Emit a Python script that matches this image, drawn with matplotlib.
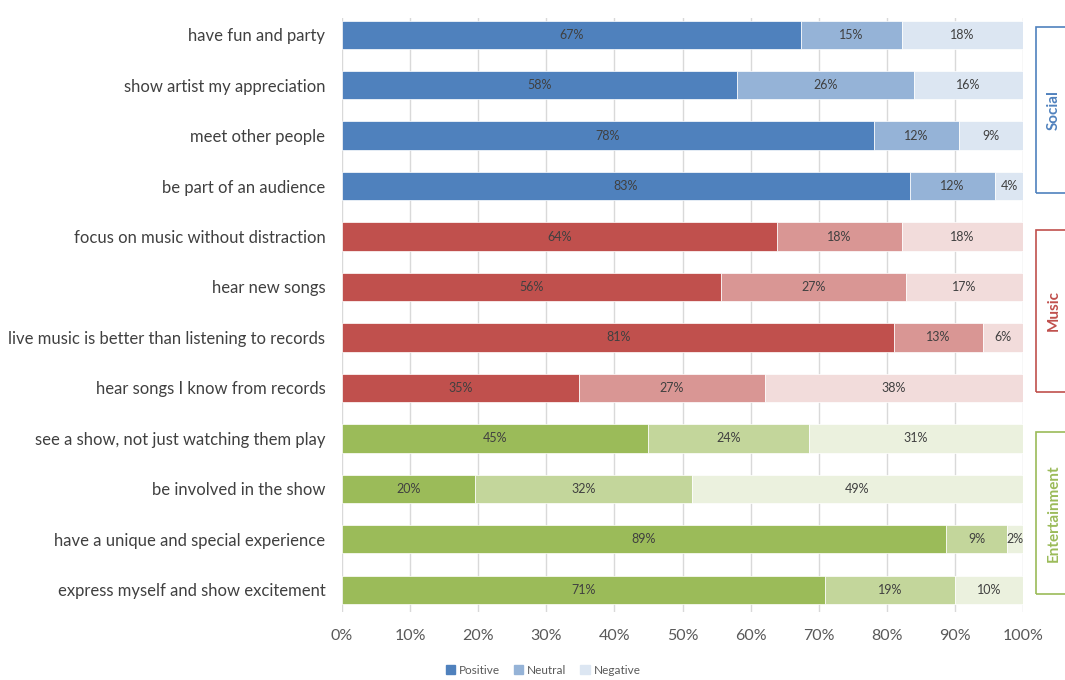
import matplotlib.pyplot as plt
from matplotlib.patches import Patch, Rectangle

# ----------------------------------------------------------------------
# Data (share of answers, in %)
# ----------------------------------------------------------------------
categories = [
    "have fun and party",
    "show artist my appreciation",
    "meet other people",
    "be part of an audience",
    "focus on music without distraction",
    "hear new songs",
    "live music is better than listening to records",
    "hear songs I know from records",
    "see a show, not just watching them play",
    "be involved in the show",
    "have a unique and special experience",
    "express myself and show excitement",
]
positive = [67.4, 58.0, 78.1, 83.4, 63.9, 55.7, 81.1, 34.8, 44.9, 19.5, 88.7, 70.9]
neutral = [14.8, 26.0, 12.5, 12.5, 18.3, 27.1, 13.0, 27.3, 23.7, 31.9, 9.0, 19.1]
negative = [17.8, 16.0, 9.4, 4.1, 17.8, 17.2, 5.9, 37.9, 31.4, 48.6, 2.3, 10.0]

groups = ["Social", "Music", "Entertainment"]
group_rows = [(0, 3), (4, 7), (8, 11)]

# colours per group: positive, neutral, negative
palette = {
    "Social": ("#4F81BD", "#95B3D7", "#DCE6F2"),
    "Music": ("#C0504D", "#D99694", "#F2DCDB"),
    "Entertainment": ("#9BBB59", "#C3D69B", "#EBF1DE"),
}

W, H = 1065, 680
fig = plt.figure(figsize=(W / 100, H / 100), dpi=100)
plt.rcParams["font.family"] = ["Lato", "DejaVu Sans"]

ax = fig.add_axes([342 / W, 1 - 612 / H, (1023 - 342) / W, (612 - 18) / H])

y = list(range(len(categories)))
row_group = []
for g, (a, b) in zip(groups, group_rows):
    row_group += [g] * (b - a + 1)

c_pos = [palette[g][0] for g in row_group]
c_neu = [palette[g][1] for g in row_group]
c_neg = [palette[g][2] for g in row_group]

left_neu = positive
left_neg = [p + n for p, n in zip(positive, neutral)]

bh = 0.56
b1 = ax.barh(y, positive, height=bh, color=c_pos, edgecolor="white", linewidth=0.5, zorder=3)
b2 = ax.barh(y, neutral, left=left_neu, height=bh, color=c_neu, edgecolor="white", linewidth=0.5, zorder=3)
b3 = ax.barh(y, negative, left=left_neg, height=bh, color=c_neg, edgecolor="white", linewidth=0.5, zorder=3)

for bars, vals in [(b1, positive), (b2, neutral), (b3, negative)]:
    ax.bar_label(bars, labels=[f"{round(v)}%" for v in vals], label_type="center",
                 fontsize=9, color="#404040")

ax.set_xlim(0, 100)
ax.set_ylim(11.44, -0.33)
ax.set_xticks(range(0, 101, 10))
ax.set_xticklabels([f"{t}%" for t in range(0, 101, 10)])
ax.set_yticks(y)
ax.set_yticklabels(categories)
ax.tick_params(axis="both", length=0, colors="#595959", labelsize=11.5)
ax.tick_params(axis="y", pad=12, colors="#404040", labelsize=12)
ax.tick_params(axis="x", pad=12)
ax.grid(axis="x", color="#D9D9D9", linewidth=1, zorder=0)
for s in ax.spines.values():
    s.set_visible(False)

# group brackets on the right
boxes = [(27, 193), (230, 392), (432, 594)]
for g, (top, bot) in zip(groups, boxes):
    col = palette[g][0]
    fig.patches.append(Rectangle((1036 / W, 1 - bot / H), 60 / W, (bot - top) / H,
                                 transform=fig.transFigure, fill=False,
                                 edgecolor=col, linewidth=1.2, clip_on=False))
    fig.text(1054 / W, 1 - (top + bot) / 2 / H, g, rotation=90, ha="center", va="center",
             color=col, fontsize=11, fontweight="bold")

handles = [Patch(color=palette["Social"][i]) for i in range(3)]
fig.legend(handles, ["Positive", "Neutral", "Negative"], loc="center",
           bbox_to_anchor=(543 / W, 1 - 670 / H), ncol=3, frameon=False,
           fontsize=8.5, handlelength=0.8, handleheight=0.8, handletextpad=0.3,
           columnspacing=1.2, labelcolor="#595959")

fig.savefig("out.png", dpi=100)
